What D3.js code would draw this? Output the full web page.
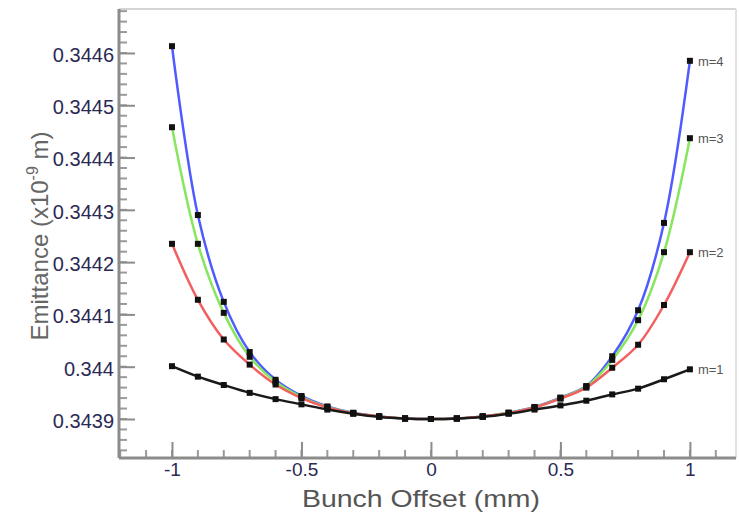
<!DOCTYPE html>
<html>
<head>
<meta charset="utf-8">
<script src="https://cdn.jsdelivr.net/npm/d3@7"></script>
<style>
  html, body { margin: 0; padding: 0; background: #fff; }
  svg { display: block; font-family: "Liberation Sans", Arial, sans-serif; }
</style>
</head>
<body>
<svg id="chart" width="739" height="516"></svg>
<script>
// Bunch offset positions (mm)
const offsets = [-1, -0.9, -0.8, -0.7, -0.6, -0.5, -0.4, -0.3, -0.2, -0.1, 0,
                 0.1, 0.2, 0.3, 0.4, 0.5, 0.6, 0.7, 0.8, 0.9, 1];

// Emittance (x10^-9 m) for each expansion order m
const emitM1 = [0.344001, 0.343981, 0.343965, 0.343950, 0.343938, 0.343928, 0.343918,
                0.343910, 0.343904, 0.343901, 0.343900, 0.343901, 0.343904, 0.343910,
                0.343918, 0.343926, 0.343935, 0.343947, 0.343958, 0.343976, 0.343995];
const emitM2 = [0.344235, 0.344128, 0.344052, 0.344004, 0.343966, 0.343940, 0.343922,
                0.343911, 0.343905, 0.343901, 0.343900, 0.343901, 0.343905, 0.343911,
                0.343922, 0.343939, 0.343960, 0.343998, 0.344042, 0.344118, 0.344219];
const emitM3 = [0.344458, 0.344235, 0.344103, 0.344019, 0.343971, 0.343942, 0.343923,
                0.343911, 0.343905, 0.343901, 0.343900, 0.343901, 0.343905, 0.343912,
                0.343922, 0.343940, 0.343962, 0.344013, 0.344089, 0.344219, 0.344437];
const emitM4 = [0.344613, 0.344290, 0.344124, 0.344028, 0.343975, 0.343944, 0.343924,
                0.343912, 0.343905, 0.343901, 0.343900, 0.343901, 0.343905, 0.343912,
                0.343923, 0.343941, 0.343963, 0.344020, 0.344108, 0.344275, 0.344585];

const seriesNames = ["m=4", "m=3", "m=2", "m=1"];
const seriesColors = ["#4f5bff", "#86e65e", "#f25f5f", "#1a1a1a"];

const xTickValues = [-1, -0.5, 0, 0.5, 1];
const xTickLabels = ["-1", "-0.5", "0", "0.5", "1"];
const yTickValues = [0.3439, 0.344, 0.3441, 0.3442, 0.3443, 0.3444, 0.3445, 0.3446];
const yTickLabels = ["0.3439", "0.344", "0.3441", "0.3442", "0.3443", "0.3444", "0.3445", "0.3446"];

const series = [emitM4, emitM3, emitM2, emitM1].map((vals, i) => ({
  name: seriesNames[i],
  color: seriesColors[i],
  points: offsets.map((x, j) => ({ x, y: vals[j] }))
}));

const svg = d3.select("#chart");
const plot = { left: 119, right: 736, top: 9, bottom: 458 };

const x = d3.scaleLinear().domain([-1.2046, 1.178]).range([plot.left, plot.right]);
const y = d3.scaleLinear().domain([0.3438254, 0.3446841]).range([plot.bottom, plot.top]);

// Frame: light top/right, darker left/bottom axes
svg.append("line").attr("x1", plot.left).attr("x2", plot.right)
  .attr("y1", plot.top).attr("y2", plot.top)
  .attr("stroke", "#d4d4d4").attr("stroke-width", 2);
svg.append("line").attr("x1", plot.right).attr("x2", plot.right)
  .attr("y1", plot.top).attr("y2", plot.bottom)
  .attr("stroke", "#e2e2e2").attr("stroke-width", 2);

// Minor ticks
const yMinor = d3.range(0.34384, 0.34468, 0.00002).filter(v => v > y.domain()[0] && v < y.domain()[1]);
svg.append("g").selectAll("line").data(yMinor).join("line")
  .attr("x1", plot.left).attr("x2", plot.left + 8)
  .attr("y1", d => y(d)).attr("y2", d => y(d))
  .attr("stroke", "#9a9a9a").attr("stroke-width", 2);
const xMinor = d3.range(-1.2, 1.2, 0.1).filter(v => v > x.domain()[0] && v < x.domain()[1]);
svg.append("g").selectAll("line").data(xMinor).join("line")
  .attr("x1", d => x(d)).attr("x2", d => x(d))
  .attr("y1", plot.bottom).attr("y2", plot.bottom - 8)
  .attr("stroke", "#9a9a9a").attr("stroke-width", 2);

// Axes with inward major ticks
const yAxis = d3.axisLeft(y).tickValues(yTickValues)
  .tickFormat((d, i) => yTickLabels[i]).tickSize(-16).tickPadding(5);
const gy = svg.append("g").attr("transform", `translate(${plot.left},0)`).call(yAxis);
gy.select(".domain").attr("stroke", "#8c8c8c").attr("stroke-width", 3)
  .attr("d", `M0,${plot.top}V${plot.bottom}`);
gy.selectAll(".tick line").attr("stroke", "#8c8c8c").attr("stroke-width", 2);
gy.selectAll(".tick text").attr("fill", "#2a2a55").attr("font-size", 20).attr("dy", "0.42em");

const xAxis = d3.axisBottom(x).tickValues(xTickValues)
  .tickFormat((d, i) => xTickLabels[i]).tickSize(-16).tickPadding(5);
const gx = svg.append("g").attr("transform", `translate(0,${plot.bottom})`).call(xAxis);
gx.select(".domain").attr("stroke", "#8c8c8c").attr("stroke-width", 3)
  .attr("d", `M${plot.left},0H${plot.right}`);
gx.selectAll(".tick line").attr("stroke", "#8c8c8c").attr("stroke-width", 2);
gx.selectAll(".tick text").attr("fill", "#2a2a55").attr("font-size", 19);

// Curves
const line = d3.line().x(d => x(d.x)).y(d => y(d.y)).curve(d3.curveCatmullRom.alpha(0.5));
svg.append("g").selectAll("path").data(series).join("path")
  .attr("d", d => line(d.points))
  .attr("fill", "none")
  .attr("stroke", d => d.color)
  .attr("stroke-width", 2.5);

// Markers
svg.append("g").selectAll("g").data(series).join("g")
  .selectAll("rect").data(d => d.points).join("rect")
  .attr("x", d => x(d.x) - 3).attr("y", d => y(d.y) - 3)
  .attr("width", 6).attr("height", 6)
  .attr("fill", "#111");

// Series labels at the right end
svg.append("g").selectAll("text").data(series).join("text")
  .attr("x", d => x(d.points[d.points.length - 1].x) + 8)
  .attr("y", d => y(d.points[d.points.length - 1].y) + 5)
  .attr("font-size", 13).attr("fill", "#555")
  .text(d => d.name);

// Axis titles
svg.append("text")
  .attr("x", 421).attr("y", 507)
  .attr("text-anchor", "middle").attr("font-size", 24).attr("fill", "#555")
  .attr("textLength", 238).attr("lengthAdjust", "spacingAndGlyphs")
  .text("Bunch Offset (mm)");

const yt = svg.append("text")
  .attr("transform", "translate(48,236) rotate(-90)")
  .attr("text-anchor", "middle").attr("font-size", 24).attr("fill", "#666");
yt.append("tspan").text("Emittance (x10");
yt.append("tspan").attr("dy", -10).attr("font-size", 16).text("-9");
yt.append("tspan").attr("dy", 10).text(" m)");
</script>
</body>
</html>
